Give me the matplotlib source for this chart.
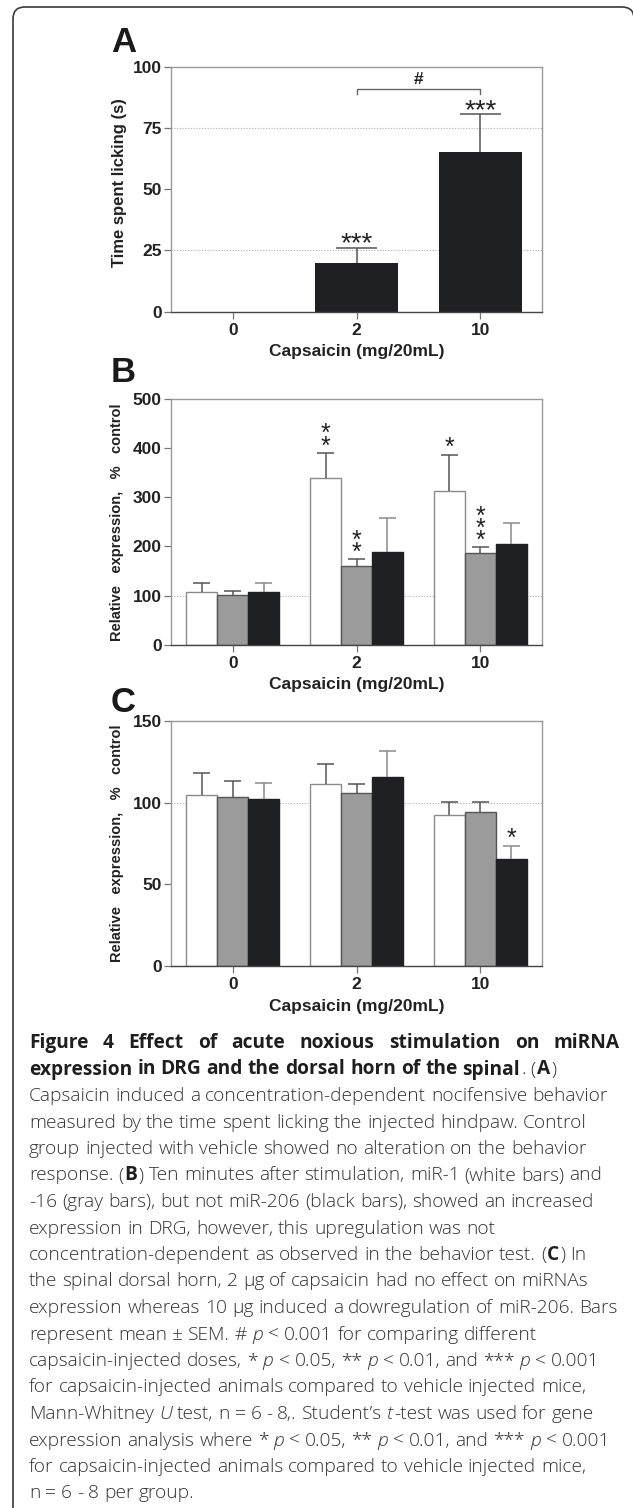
import re
import matplotlib
matplotlib.use("Agg")
import matplotlib.pyplot as plt
from matplotlib import font_manager
from matplotlib.patches import FancyBboxPatch
from matplotlib.transforms import IdentityTransform

W, H, DPI = 633, 1508, 100

doses = ["0", "2", "10"]

# A: time spent licking (s), mean and upper SEM
lick = [0, 20, 65]
lick_err = [0, 6, 15.5]
lick_sig = ["", "***", "***"]

# B: DRG, relative expression (% control)
drg_mir1 = [108, 339, 312]
drg_mir1_err = [17, 51, 75]
drg_mir1_sig = ["", "**", "*"]
drg_mir16 = [101, 160, 186]
drg_mir16_err = [8, 14, 12]
drg_mir16_sig = ["", "**", "***"]
drg_mir206 = [108, 188, 204]
drg_mir206_err = [17, 69, 43]
drg_mir206_sig = ["", "", ""]

# C: spinal dorsal horn, relative expression (% control)
sc_mir1 = [105, 111.4, 92.4]
sc_mir1_err = [13.3, 12.2, 8.2]
sc_mir1_sig = ["", "", ""]
sc_mir16 = [103.2, 106, 94.2]
sc_mir16_err = [10.2, 5.2, 6.4]
sc_mir16_sig = ["", "", ""]
sc_mir206 = [102.2, 115.5, 65.7]
sc_mir206_err = [10, 16.1, 7.9]
sc_mir206_sig = ["", "", "*"]

caption = [
    "<b>Figure 4 Effect of acute noxious stimulation on miRNA</b>",
    "<b>expression in DRG and the dorsal horn of the spinal</b>. (<b>A</b>)",
    "Capsaicin induced a concentration-dependent nocifensive behavior",
    "measured by the time spent licking the injected hindpaw. Control",
    "group injected with vehicle showed no alteration on the behavior",
    "response. (<b>B</b>) Ten minutes after stimulation, miR-1 (white bars) and",
    "-16 (gray bars), but not miR-206 (black bars), showed an increased",
    "expression in DRG, however, this upregulation was not",
    "concentration-dependent as observed in the behavior test. (<b>C</b>) In",
    "the spinal dorsal horn, 2 µg of capsaicin had no effect on miRNAs",
    "expression whereas 10 µg induced a dowregulation of miR-206. Bars",
    "represent mean ± SEM. # <i>p</i> < 0.001 for comparing different",
    "capsaicin-injected doses, * <i>p</i> < 0.05, ** <i>p</i> < 0.01, and *** <i>p</i> < 0.001",
    "for capsaicin-injected animals compared to vehicle injected mice,",
    "Mann-Whitney <i>U</i> test, n = 6 - 8,. Student’s <i>t</i>-test was used for gene",
    "expression analysis where * <i>p</i> < 0.05, ** <i>p</i> < 0.01, and *** <i>p</i> < 0.001",
    "for capsaicin-injected animals compared to vehicle injected mice,",
    "n = 6 - 8 per group.",
]

FONT = "Liberation Sans"
fonts = font_manager.fontManager.ttflist
names = {f.name for f in fonts}
NARROW = "Liberation Sans Narrow" if "Liberation Sans Narrow" in names else FONT
CAPFONT = "Open Sans"
light_ok = any(f.name == CAPFONT and isinstance(f.weight, int) and f.weight < 400 for f in fonts)
BODY_WT = "light" if light_ok else "normal"

# face, edge, error-bar colour for white / gray / black bars
styles = [("#ffffff", "#8a8a8a", "#555555"),
          ("#9b9b9b", "#555555", "#555555"),
          ("#1f2023", "#1f2023", "#8a8a8a")]

fig = plt.figure(figsize=(W / DPI, H / DPI), dpi=DPI)
fig.patch.set_facecolor("white")


def px_axes(top, bottom, left=171, right=542):
    return fig.add_axes([left / W, 1 - bottom / H, (right - left) / W, (bottom - top) / H])


def style(ax, ymax, step):
    ax.set_xlim(-0.5, 2.5)
    ax.set_ylim(0, ymax)
    ax.set_yticks(range(0, ymax + 1, step))
    ax.set_xticks(range(3))
    ax.set_xticklabels(doses)
    ax.tick_params(direction="out", length=5, width=0.9, color="#777777", labelsize=12.5, pad=1.6)
    ax.tick_params(axis="x", pad=3.2)
    for lab in ax.get_xticklabels() + ax.get_yticklabels():
        lab.set_fontweight("bold")
        lab.set_family(FONT)
        lab.set_color("#222222")
    for s in ["left", "top", "right"]:
        ax.spines[s].set_color("#999999")
        ax.spines[s].set_linewidth(1)
    ax.spines["bottom"].set_color("#444444")
    ax.spines["bottom"].set_linewidth(1)


def err_up(ax, x, v, e, color, half):
    if e <= 0:
        return
    ax.vlines(x, v, v + e, color=color, lw=1.1, zorder=3)
    ax.hlines(v + e, x - half, x + half, color=color, lw=1.1, zorder=3)


def mark(ax, x, y, sig, size, horizontal=False):
    if not sig:
        return
    if horizontal:
        ax.annotate(sig, (x, y), xytext=(0, 9 - 0.575 * size), textcoords="offset points",
                    ha="center", va="baseline", fontsize=size, family=FONT, color="#222222")
        return
    ax.annotate("\n".join("*" * len(sig)), (x, y), xytext=(0, 10 - 0.575 * size),
                textcoords="offset points", ha="center", va="baseline", fontsize=size,
                family=FONT, color="#222222", linespacing=0.38)


def grouped(ax, series, errs, sigs):
    for i, (vals, err, sig) in enumerate(zip(series, errs, sigs)):
        face, edge, ecol = styles[i]
        xs = [g + (i - 1) * 0.25 for g in range(3)]
        ax.bar(xs, vals, 0.25, color=face, edgecolor=edge, linewidth=1, zorder=2)
        for x, v, e, s in zip(xs, vals, err, sig):
            err_up(ax, x, v, e, ecol, 0.069)
            mark(ax, x, v + e, s, 18)


def dotted(ax, y):
    ax.axhline(y, color="#b0b0b0", ls=(0, (1, 1.5)), lw=0.8, zorder=1)


# ---- panel A
axA = px_axes(66.7, 311.7)
style(axA, 100, 25)
dotted(axA, 25)
dotted(axA, 75)
axA.bar(range(3), lick, 0.67, color="#1f2023", zorder=2)
for x, v, e, s in zip(range(3), lick, lick_err, lick_sig):
    err_up(axA, x, v, e, "#555555", 0.165)
    mark(axA, x, v + e, s, 20, horizontal=True)
axA.plot([1, 1, 2, 2], [88.9, 90.9, 90.9, 88.9], color="#666666", lw=1)
axA.text(1.5, 94.9, "#", ha="center", va="center", fontsize=12.5, fontweight="bold",
         family=FONT, color="#222222")

# ---- panel B
axB = px_axes(399, 644.7)
style(axB, 500, 100)
dotted(axB, 100)
grouped(axB, [drg_mir1, drg_mir16, drg_mir206],
        [drg_mir1_err, drg_mir16_err, drg_mir206_err],
        [drg_mir1_sig, drg_mir16_sig, drg_mir206_sig])

# ---- panel C
axC = px_axes(721, 966)
style(axC, 150, 50)
dotted(axC, 100)
grouped(axC, [sc_mir1, sc_mir16, sc_mir206],
        [sc_mir1_err, sc_mir16_err, sc_mir206_err],
        [sc_mir1_sig, sc_mir16_sig, sc_mir206_sig])


def ftxt(x, y, s, **kw):
    return fig.text(x / W, 1 - y / H, s, **kw)


for letter, base in [("A", 51.7), ("B", 382), ("C", 711.7)]:
    ftxt(111, base, letter, fontsize=25, fontweight="bold", family=FONT, va="baseline",
         color="#1a1a1a")

for ybot in [311.7, 644.7, 966]:
    ftxt(356.5, ybot + 40, "Capsaicin (mg/20mL)", fontsize=12.5, fontweight="bold",
         family=FONT, ha="center", va="center", color="#222222")

ftxt(120, 183, "Time spent licking (s)", rotation=90, fontsize=12, fontweight="bold",
     family=FONT, ha="center", va="center", color="#222222")
for yc in [522, 843.5]:
    ftxt(117, yc, "Relative   expression,   %   control", rotation=90, fontsize=10.5,
         fontweight="bold", family=NARROW, ha="center", va="center", color="#222222")

# ---- frame
frame = FancyBboxPatch((13, -30), 621, H - 7 + 30, boxstyle="round,pad=0,rounding_size=12",
                       transform=IdentityTransform(), facecolor="none", edgecolor="#3a3a3a",
                       linewidth=1.2)
fig.add_artist(frame)

# ---- caption
renderer = fig.canvas.get_renderer()


def width_of(s, size, wt, st):
    t = fig.text(0, 0, s, fontsize=size, family=CAPFONT, weight=wt, style=st)
    w = t.get_window_extent(renderer).width
    t.remove()
    return w


def rich(y_base, markup, size, x0=29, justify_to=None):
    tokens = []
    for part in re.split(r"(<[bi]>.*?</[bi]>)", markup):
        if not part:
            continue
        m = re.match(r"<([bi])>(.*?)</\1>", part)
        wt, st, txt = BODY_WT, "normal", part
        if m:
            txt = m.group(2)
            wt = "bold" if m.group(1) == "b" else BODY_WT
            st = "italic" if m.group(1) == "i" else "normal"
        for piece in re.split(r"( )", txt):
            if piece == " ":
                tokens.append(("sp", wt))
            elif piece:
                tokens.append((piece, wt, st))
    drawn = []
    total = 0
    n_sp = 0
    prev_word = False
    for tok in tokens:
        if tok[0] == "sp":
            w = width_of("n n", size, tok[1], "normal") - width_of("nn", size, tok[1], "normal")
            drawn.append(("sp", w))
            total += w
            n_sp += 1
            prev_word = False
        else:
            piece, wt, st = tok
            col = "#1e1e1e" if wt == "bold" else "#333333"
            t = fig.text(0, H - y_base, piece, fontsize=size, family=CAPFONT, weight=wt, style=st,
                         va="baseline", color=col, transform=IdentityTransform())
            w = t.get_window_extent(renderer).width
            gap = 1 if prev_word else 0
            drawn.append((t, w, gap))
            total += w + gap
            prev_word = True
    extra = 0
    if justify_to is not None and n_sp:
        extra = (justify_to - x0 - total) / n_sp
    x = x0
    for d in drawn:
        if d[0] == "sp":
            x += d[1] + extra
        else:
            t, w, gap = d
            x += gap
            t.set_x(x)
            x += w


for i, line in enumerate(caption):
    rich(1048 + i * 26.5, line, 13.8, justify_to=620 if i == 0 else None)

fig.savefig("out.png", dpi=DPI)
